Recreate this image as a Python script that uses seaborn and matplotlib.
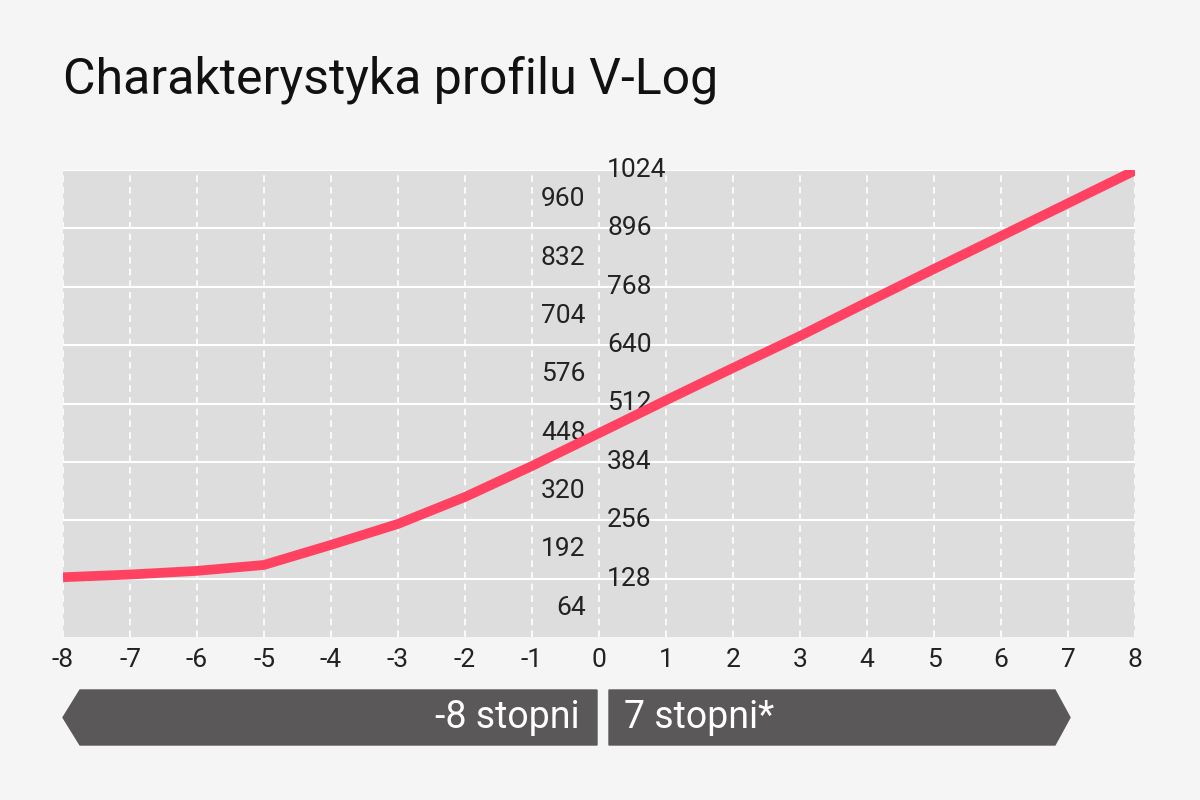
import matplotlib
matplotlib.use("Agg")
import matplotlib.pyplot as plt
import seaborn as sns
import numpy as np
from matplotlib.patches import Polygon

stops = [-8, -7, -6, -5, -4, -3, -2, -1, 0, 1, 2, 3, 4, 5, 6, 7, 8]
code_values = [131, 137, 145, 158, 202, 248, 307, 375, 447, 519, 590, 660, 734, 807, 879, 951, 1023]
left_labels = [64, 192, 320, 448, 576, 704, 832, 960]
right_labels = [128, 256, 384, 512, 640, 768, 896, 1024]

sns.set_style("white")
plt.rcParams['font.family'] = ['Liberation Sans Narrow', 'Roboto', 'DejaVu Sans']

fig = plt.figure(figsize=(12, 8), dpi=100, facecolor='#f5f5f5')
ax = fig.add_axes([63/1200, 1-637/800, (1135-63)/1200, (637-170)/800])
ax.set_facecolor('#dddddd')
ax.set_xlim(-8, 8)
ax.set_ylim(0, 1024)

for y in right_labels:
    ax.axhline(y, color='white', lw=1.5, zorder=1)
for x in stops:
    ax.axvline(x, color='white', lw=1.2, ls=(0, (4, 3)), zorder=1)

sns.lineplot(x=stops, y=code_values, ax=ax, color='#ff4262', lw=7, zorder=3,
             solid_capstyle='butt')

for v in left_labels:
    ax.text(-0.2, v, str(v), ha='right', va='center', fontsize=19, color='#222222', zorder=2)
for v in right_labels:
    ax.text(0.12, v, str(v), ha='left', va='center', fontsize=19, color='#222222', zorder=2)

ax.set_yticks([])
ax.set_xticks(stops)
ax.set_xticklabels([str(s) for s in stops], fontsize=19, color='#222222')
ax.tick_params(axis='x', length=0, pad=8)
for s in ax.spines.values():
    s.set_visible(False)

fig.text(63/1200, 1-80/800, "Charakterystyka profilu V-Log", fontsize=36,
         color='#111111', va='center', ha='left')

def px(x, y):
    return (x/1200, 1-y/800)

dark = '#5a5859'
left_poly = Polygon([px(80, 690), px(597, 690), px(597, 745), px(80, 745), px(63, 717.5)],
                    closed=True, transform=fig.transFigure, color=dark)
right_poly = Polygon([px(609, 690), px(1055, 690), px(1070, 717.5), px(1055, 745), px(609, 745)],
                     closed=True, transform=fig.transFigure, color=dark)
fig.patches.extend([left_poly, right_poly])
fig.text(580/1200, 1-717/800, "-8 stopni", fontsize=27, color='white', ha='right', va='center')
fig.text(624/1200, 1-717/800, "7 stopni*", fontsize=27, color='white', ha='left', va='center')

fig.savefig("out.png", dpi=100, facecolor=fig.get_facecolor())
